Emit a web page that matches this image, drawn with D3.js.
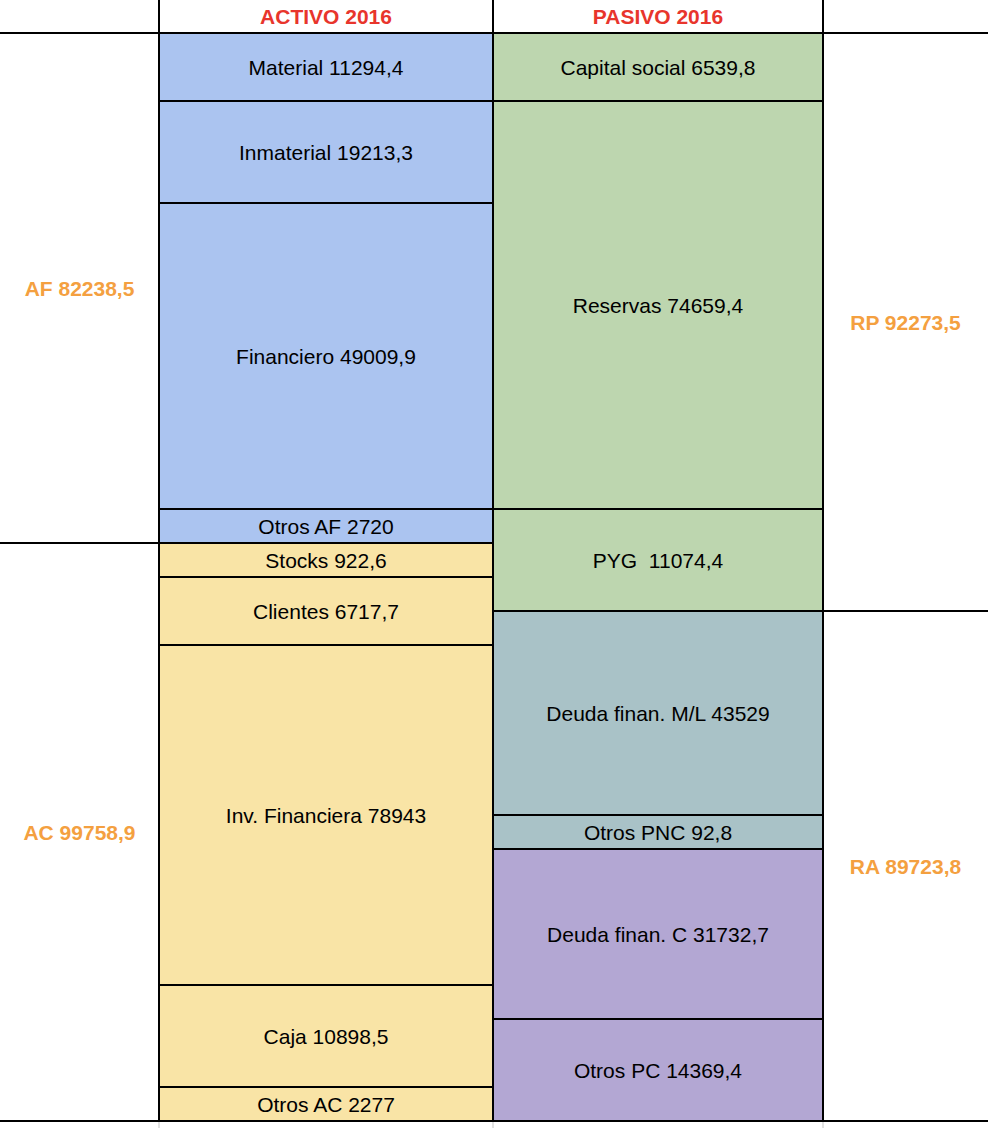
<!DOCTYPE html>
<html>
<head>
<meta charset="utf-8">
<script src="https://cdn.jsdelivr.net/npm/d3@7/dist/d3.min.js"></script>
<style>
  html, body { margin: 0; padding: 0; background: #fff; }
  svg { display: block; }
  text { font-family: "Liberation Sans", Arial, sans-serif; }
</style>
</head>
<body>
<svg id="chart" width="988" height="1128"></svg>
<script>
// ---- data ----
const headers = ["ACTIVO 2016", "PASIVO 2016"];

const activoLabels = ["Material", "Inmaterial", "Financiero", "Otros AF", "Stocks", "Clientes", "Inv. Financiera", "Caja", "Otros AC"];
const activoValues = ["11294,4", "19213,3", "49009,9", "2720", "922,6", "6717,7", "78943", "10898,5", "2277"];
const activoRows   = [2, 3, 9, 1, 1, 2, 10, 3, 1];
const activoGroup  = ["AF", "AF", "AF", "AF", "AC", "AC", "AC", "AC", "AC"];

const pasivoLabels = ["Capital social", "Reservas", "PYG ", "Deuda finan. M/L", "Otros PNC", "Deuda finan. C", "Otros PC"];
const pasivoValues = ["6539,8", "74659,4", "11074,4", "43529", "92,8", "31732,7", "14369,4"];
const pasivoRows   = [2, 12, 3, 6, 1, 5, 3];
const pasivoGroup  = ["PN", "PN", "PN", "PNC", "PNC", "PC", "PC"];

const leftLabels  = ["AF", "AC"];
const leftValues  = ["82238,5", "99758,9"];
const leftRows    = [15, 17];

const rightLabels = ["RP", "RA"];
const rightValues = ["92273,5", "89723,8"];
const rightRows   = [17, 15];

// ---- styles ----
const groupColor = { AF: "#abc4f0", AC: "#f9e4a6", PN: "#bdd6af", PNC: "#a9c2c7", PC: "#b3a7d3" };
const W = 988, H = 1128, headerH = 33, rowH = 34;
const totalRows = d3.sum(activoRows);

const svg = d3.select("#chart");
const y = d3.scaleLinear().domain([0, totalRows]).range([headerH, headerH + totalRows * rowH]);
const xEdge = d3.scaleOrdinal().domain(["l", "a", "p", "r", "end"]).range([0, 159, 493, 823, W]);

function stack(rows) {
  let acc = 0;
  return rows.map(r => { const s = acc; acc += r; return [s, acc]; });
}

function column(labels, values, rows, colKey, nextKey, colorFn, textColor, bold, sep) {
  const spans = stack(rows);
  const data = labels.map((l, i) => ({ l, v: values[i], s: spans[i], i }));
  const g = svg.append("g");
  const x0 = xEdge(colKey), x1 = xEdge(nextKey);
  if (colorFn) {
    g.selectAll("rect").data(data).join("rect")
      .attr("x", x0).attr("width", x1 - x0)
      .attr("y", d => y(d.s[0])).attr("height", d => y(d.s[1]) - y(d.s[0]))
      .attr("fill", d => colorFn(d.i));
  }
  g.selectAll("line").data(data).join("line")
    .attr("x1", x0).attr("x2", x1)
    .attr("y1", d => y(d.s[1])).attr("y2", d => y(d.s[1]))
    .attr("stroke", "#000").attr("stroke-width", 2);
  g.selectAll("text").data(data).join("text")
    .attr("x", (x0 + x1) / 2)
    .attr("y", d => (y(d.s[0]) + y(d.s[1])) / 2)
    .attr("dy", "0.36em")
    .attr("text-anchor", "middle")
    .attr("font-size", 21)
    .attr("font-weight", bold ? "bold" : "normal")
    .attr("fill", textColor)
    .style("white-space", "pre")
    .text(d => d.l + sep + d.v);
}

column(activoLabels, activoValues, activoRows, "a", "p", i => groupColor[activoGroup[i]], "#000", false, " ");
column(pasivoLabels, pasivoValues, pasivoRows, "p", "r", i => groupColor[pasivoGroup[i]], "#000", false, " ");
column(leftLabels, leftValues, leftRows, "l", "a", null, "#f4a040", true, " ");
column(rightLabels, rightValues, rightRows, "r", "end", null, "#f4a040", true, " ");

// header texts
svg.selectAll(".hdr").data(headers).join("text")
  .attr("class", "hdr")
  .attr("x", (d, i) => (xEdge(i ? "p" : "a") + xEdge(i ? "r" : "p")) / 2)
  .attr("y", headerH / 2)
  .attr("dy", "0.36em")
  .attr("text-anchor", "middle")
  .attr("font-size", 21)
  .attr("font-weight", "bold")
  .attr("fill", "#e8352c")
  .text(d => d);

// grid lines
const bottom = y(totalRows);
svg.append("line").attr("x1", 0).attr("x2", W).attr("y1", headerH).attr("y2", headerH)
  .attr("stroke", "#000").attr("stroke-width", 2);
svg.append("line").attr("x1", 0).attr("x2", W).attr("y1", bottom).attr("y2", bottom)
  .attr("stroke", "#000").attr("stroke-width", 2);
["a", "p", "r"].forEach(k => {
  svg.append("line").attr("x1", xEdge(k)).attr("x2", xEdge(k)).attr("y1", bottom + 1).attr("y2", H)
    .attr("stroke", "#e2e2e2").attr("stroke-width", 2);
  svg.append("line").attr("x1", xEdge(k)).attr("x2", xEdge(k)).attr("y1", 0).attr("y2", bottom + 1)
    .attr("stroke", "#000").attr("stroke-width", 2);
});
</script>
</body>
</html>
